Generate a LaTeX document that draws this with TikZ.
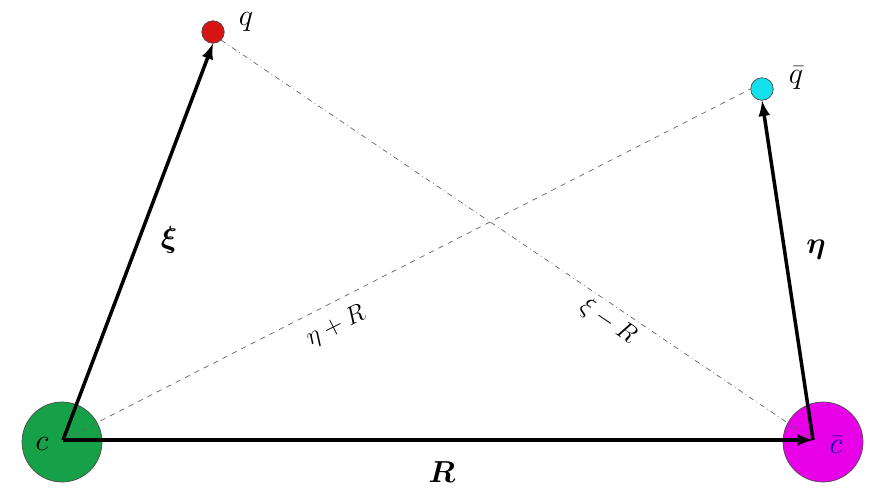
\documentclass[tikz,border=0pt]{standalone}
\usepackage{bm}
\definecolor{cgreen}{RGB}{22,160,72}
\definecolor{cmagenta}{RGB}{232,0,232}
\definecolor{qred}{RGB}{215,20,20}
\definecolor{qcyan}{RGB}{20,225,235}
\tikzset{
	vec/.style = {line width=2pt, -latex},
	quark/.style = {circle, draw=black!70, inner sep=0pt, minimum size=0.45cm},
	charm/.style = {circle, draw=black!70, inner sep=0pt, minimum size=1.6cm},
	lbl/.style = {font=\fontsize{19}{22}\selectfont},
	sml/.style = {font=\Large, inner sep=1pt}
}
\begin{document}
\begin{tikzpicture}[x=0.02cm, y=-0.02cm]
	\useasboundingbox (0,0) rectangle (879,495);
	% heavy quarks
	\node [charm, fill = cgreen] (c) at (62,442) {};
	\node [charm, fill = cmagenta] (cb) at (823,442) {};
	\coordinate (co) at (63,440);
	\coordinate (cbo) at (813,440);
	% light quarks
	\node [quark, fill = qred] (q) at (213,32) {};
	\node [quark, fill = qcyan] (qb) at (762,89) {};
	%\draw [thick] (c) circle (1.3);
	\node [lbl] (cl) at (42,444) {$c$};
	\node [lbl, text = blue!60!black] (cbl) at (836,445) {$\bar{c}$};
	\node [lbl] (ql) at (246,22) {$q$};
	\node [lbl] (qbl) at (796,78) {$\bar{q}$};
	% relative vectors
	\draw [gray!80!black, dashed] (co) -- (qb.west);
	\draw [gray!80!black, dash dot] (q.south east) -- (cbo);
	\node [sml, rotate=26.6] (etaR) at (336,326) {$\eta+R$};
	\node [sml, rotate=-34.2] (xiR) at (608,322) {$\xi-R$};
	\draw [vec] (co) -- (q.south);
	\draw [vec] (cbo) -- (qb.south);
	\draw [vec] (co) -- (cbo);
	\node [lbl] (xil) at (169,240) {$\bm{\xi}$};
	\node [lbl] (etal) at (816,250) {$\bm{\eta}$};
	\node [lbl] (Rl) at (442,472) {$\bm{R}$};
\end{tikzpicture}
\end{document}
